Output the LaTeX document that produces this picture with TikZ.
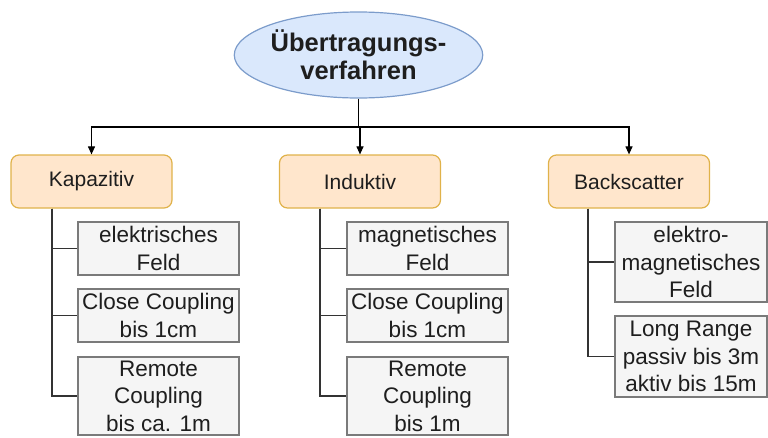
\documentclass[tikz,border=0pt]{standalone}
\usepackage{fontspec}
\setmainfont{Liberation Sans}
\usetikzlibrary{arrows.meta,shapes.geometric}
\definecolor{ellfill}{HTML}{DAE8FC}
\definecolor{elldraw}{HTML}{7C9CCB}
\definecolor{orfill}{HTML}{FFE6CC}
\definecolor{ordraw}{HTML}{E0B24A}
\definecolor{grfill}{HTML}{F5F5F5}
\definecolor{grdraw}{HTML}{7A7A7A}
\definecolor{txt}{HTML}{1E1E1E}
\definecolor{wire}{HTML}{333333}
\tikzset{
  rootnode/.style={ellipse, draw=elldraw, fill=ellfill, line width=1.2pt,
    minimum width=207pt, minimum height=86pt, inner sep=0pt, align=center,
    text=txt, font=\fontsize{25.5}{28}\selectfont\bfseries},
  catbox/.style={rectangle, rounded corners=8pt, draw=ordraw, fill=orfill, line width=1.2pt,
    minimum width=161pt, minimum height=53pt, inner sep=0pt, text=txt,
    font=\fontsize{21}{27}\selectfont},
  subbox/.style={rectangle, draw=grdraw, fill=grfill, line width=1.2pt,
    minimum width=161pt, inner sep=0pt, align=center, text=txt,
    font=\fontsize{22.5}{27.5}\selectfont},
  arr/.style={draw=black, line width=1.1pt, -{Triangle[length=8pt,width=7pt]}},
  conn/.style={draw=wire, line width=1.3pt}
}
\begin{document}
\begin{tikzpicture}[x=1pt,y=-1pt]
\useasboundingbox (0,0) rectangle (768,437);
\node[rootnode] (root) at (358.5,55) {Übertragungs-\\verfahren};
\node[catbox] (K) at (91.5,181.5) {Kapazitiv};
\node[catbox] (I) at (360,181.5) {Induktiv};
\node[catbox] (B) at (629,181.5) {Backscatter};
\coordinate (bus) at (358.5,127);
\draw[arr] (root.south) -- (bus) -| (K.north);
\draw[arr] (bus) -| (I.north);
\draw[arr] (bus) -| (B.north);

\node[subbox, minimum height=53pt] (K1) at (158.5,248.5) {elektrisches\\Feld};
\node[subbox, minimum height=53pt] (K2) at (158.5,315.5) {Close Coupling\\bis 1cm};
\node[subbox, minimum height=78pt] (K3) at (158.5,396) {Remote\\Coupling\\bis ca. 1m};

\node[subbox, minimum height=53pt] (I1) at (427.5,248.5) {magnetisches\\Feld};
\node[subbox, minimum height=53pt] (I2) at (427.5,315.5) {Close Coupling\\bis 1cm};
\node[subbox, minimum height=78pt] (I3) at (427.5,396) {Remote\\Coupling\\bis 1m};

\node[subbox, minimum width=152pt, minimum height=80pt] (B1) at (691,262) {elektro-\\magnetisches\\Feld};
\node[subbox, minimum width=152pt, minimum height=81pt] (B2) at (691,356.5) {Long Range\\passiv bis 3m\\aktiv bis 15m};

\draw[conn] ([xshift=-39.5pt]K.south) |- (K3.west);
\draw[conn] ([xshift=-39.5pt]K.south) |- (K1.west);
\draw[conn] ([xshift=-39.5pt]K.south) |- (K2.west);
\draw[conn] ([xshift=-40pt]I.south) |- (I3.west);
\draw[conn] ([xshift=-40pt]I.south) |- (I1.west);
\draw[conn] ([xshift=-40pt]I.south) |- (I2.west);
\draw[conn] ([xshift=-41pt]B.south) |- (B2.west);
\draw[conn] ([xshift=-41pt]B.south) |- (B1.west);
\end{tikzpicture}
\end{document}
